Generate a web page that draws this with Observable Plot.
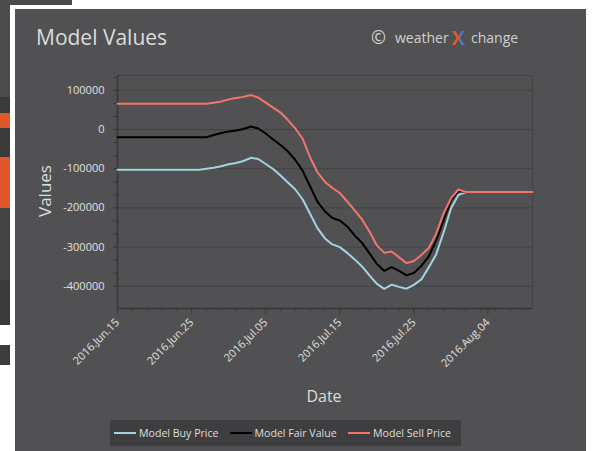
<!DOCTYPE html>
<html>
<head>
<meta charset="utf-8">
<script src="https://cdn.jsdelivr.net/npm/d3@7"></script>
<script src="https://cdn.jsdelivr.net/npm/@observablehq/plot@0.6"></script>
<style>
html,body{margin:0;padding:0;background:#fff;width:592px;height:451px;overflow:hidden;font-family:"Open Sans",sans-serif;}
#wrap{position:relative;width:592px;height:451px;}
.abs{position:absolute;}
#panel{left:15px;top:9px;width:571px;height:442px;background:#515153;}
#title{left:36px;top:26.5px;font-size:21px;color:#dcdcdc;line-height:1;white-space:nowrap;}
.logo{top:31px;font-size:14px;color:#d0d0d0;line-height:1;white-space:nowrap;}
#logoC{left:371px;top:28px;font-size:18px;}
#logoX{left:452px;top:28.5px;font-size:19px;font-weight:700;background:linear-gradient(to right,#e2582a 52%,#4b79cc 52%);-webkit-background-clip:text;background-clip:text;color:transparent;}
#ylab{left:44px;top:191px;font-size:17px;color:#dcdcdc;transform:translate(-50%,-50%) rotate(-90deg);white-space:nowrap;line-height:1;}
#xlab{left:324px;top:396px;font-size:16px;color:#dcdcdc;transform:translate(-50%,-50%);white-space:nowrap;line-height:1;}
#legend{left:110px;top:420px;width:351px;height:26px;background:#3e3e40;font-size:10.6px;color:#dedede;}
#legend .sw{position:absolute;top:12px;width:22px;height:2px;display:block;}
#legend .txt{position:absolute;top:0;height:26px;line-height:26px;white-space:nowrap;}
#plot{left:0;top:0;}
</style>
</head>
<body>
<div id="wrap">
  <div class="abs" style="left:0;top:0;width:72px;height:5px;background:#4b4b4d"></div>
  <div class="abs" style="left:0;top:0;width:10px;height:97px;background:#4b4b4d"></div>
  <div class="abs" style="left:0;top:97px;width:10px;height:16px;background:#3a3a3c"></div>
  <div class="abs" style="left:0;top:113px;width:10px;height:15px;background:#e0582a"></div>
  <div class="abs" style="left:0;top:128px;width:10px;height:29px;background:#3a3a3c"></div>
  <div class="abs" style="left:0;top:157px;width:10px;height:51px;background:#e0582a"></div>
  <div class="abs" style="left:0;top:208px;width:10px;height:72px;background:#444446"></div>
  <div class="abs" style="left:0;top:280px;width:10px;height:45px;background:#3a3a3c"></div>
  <div class="abs" style="left:0;top:345px;width:10px;height:20px;background:#3c3c3e"></div>
  <div id="panel" class="abs"></div>
  <div id="title" class="abs">Model Values</div>
  <div id="logoC" class="abs logo">©</div>
  <div class="abs logo" style="left:395px">weather</div>
  <div id="logoX" class="abs logo">X</div>
  <div class="abs logo" style="left:471px">change</div>
  <div id="ylab" class="abs">Values</div>
  <div id="xlab" class="abs">Date</div>
  <div id="legend" class="abs"></div>
  <div id="plot" class="abs"></div>
</div>
<script>
const dates = [
  "2016-06-15","2016-06-16","2016-06-17","2016-06-18","2016-06-19","2016-06-20","2016-06-21","2016-06-22",
  "2016-06-23","2016-06-24","2016-06-25","2016-06-26","2016-06-27","2016-06-28","2016-06-29","2016-06-30",
  "2016-07-01","2016-07-02","2016-07-03","2016-07-04","2016-07-05","2016-07-06","2016-07-07","2016-07-08",
  "2016-07-09","2016-07-10","2016-07-11","2016-07-12","2016-07-13","2016-07-14","2016-07-15","2016-07-16",
  "2016-07-17","2016-07-18","2016-07-19","2016-07-20","2016-07-21","2016-07-22","2016-07-23","2016-07-24",
  "2016-07-25","2016-07-26","2016-07-27","2016-07-28","2016-07-29","2016-07-30","2016-07-31","2016-08-01",
  "2016-08-02","2016-08-03","2016-08-04","2016-08-05","2016-08-06","2016-08-07","2016-08-08","2016-08-09",
  "2016-08-10"
];
const buyPrice = [
  -102800,-102800,-102800,-102800,-102800,-102800,-102800,-102800,-102800,-102800,-102800,-102800,
  -100300,-97700,-93900,-88500,-85500,-80400,-72200,-75300,-88000,-100800,-117300,-135200,
  -153100,-178600,-215600,-252500,-278100,-293400,-300300,-315000,-331600,-349500,-372400,-394100,
  -406900,-396200,-401800,-406400,-396700,-382700,-352000,-318900,-262800,-201500,-167100,
  -159400,-159400,-159400,-159400,-159400,-159400,-159400,-159400,-159400,-159400
];
const fairValue = [
  -19600,-19600,-19600,-19600,-19600,-19600,-19600,-19600,-19600,-19600,-19600,-19600,-19600,
  -14000,-8900,-5100,-2600,1300,7700,2600,-10200,-25500,-39500,-56100,
  -77800,-105900,-145400,-184900,-209200,-225800,-232100,-247400,-270400,-289500,-316300,-343100,
  -361000,-351300,-361000,-372400,-366100,-348200,-324000,-283200,-232100,-181100,-156900,
  -159400,-159400,-159400,-159400,-159400,-159400,-159400,-159400,-159400,-159400
];
const sellPrice = [
  65600,65600,65600,65600,65600,65600,65600,65600,65600,65600,65600,65600,65600,
  68400,71400,77000,80400,83400,88000,81600,68900,56100,43400,24200,
  2600,-24200,-71400,-109700,-133900,-149200,-162000,-183700,-206600,-229600,-260200,-295900,
  -315000,-311200,-326500,-341100,-335500,-320200,-302300,-266600,-214300,-176000,-153100,
  -159400,-159400,-159400,-159400,-159400,-159400,-159400,-159400,-159400,-159400
];
const seriesNames = ["Model Buy Price", "Model Fair Value", "Model Sell Price"];
const seriesColors = ["#a3d3e3", "#000000", "#f2766b"];
const xTickDates = ["2016-06-15","2016-06-25","2016-07-05","2016-07-15","2016-07-25","2016-08-04"];
const yTicks = [-400000, -300000, -200000, -100000, 0, 100000];
const xDomain = ["2016-06-15", "2016-08-10"];
const yDomain = [-457000, 138000];

const parse = d3.utcParse("%Y-%m-%d");
const seriesValues = [buyPrice, fairValue, sellPrice];
const rows = [];
seriesNames.forEach((name, s) => {
  dates.forEach((d, i) => rows.push({date: parse(d), value: seriesValues[s][i], series: name}));
});
const xd = xDomain.map(parse);
const minorX = d3.utcDay.every(2).range(xd[0], d3.utcDay.offset(xd[1], 1));
const minorY = d3.range(-400000, 138000, 100000 / 3);

const chart = Plot.plot({
  width: 592,
  height: 451,
  marginLeft: 117,
  marginRight: 60,
  marginTop: 75,
  marginBottom: 143,
  style: {background: "transparent", color: "#e0e0e0", fontFamily: "Open Sans, sans-serif", fontSize: "11px"},
  x: {type: "utc", domain: xd},
  y: {domain: yDomain},
  color: {domain: seriesNames, range: seriesColors},
  marks: [
    Plot.gridY(yTicks, {stroke: "#424244", strokeOpacity: 1}),
    Plot.frame({stroke: "#434345"}),
    Plot.axisY(minorY, {tickSize: 4, tickFormat: () => "", stroke: "#3a3a3c", label: null}),
    Plot.axisY(yTicks, {tickSize: 4, tickPadding: 9, tickFormat: d => String(d), stroke: "#3a3a3c", fill: "#e0e0e0", label: null}),
    Plot.axisX(minorX, {tickSize: 3, tickFormat: () => "", stroke: "#3a3a3c", label: null}),
    Plot.axisX(xTickDates.map(parse), {tickSize: 6, tickPadding: 6, tickRotate: -45, tickFormat: d3.utcFormat("%Y.%b.%d"), stroke: "#3a3a3c", fill: "#e0e0e0", label: null}),
    Plot.ruleX([xd[0]], {stroke: "#363638", strokeWidth: 1.5}),
    Plot.ruleY([yDomain[0]], {stroke: "#363638", strokeWidth: 1.5}),
    Plot.line(rows, {x: "date", y: "value", z: "series", stroke: "series", strokeWidth: 2})
  ]
});
document.getElementById("plot").appendChild(chart);

const legend = document.getElementById("legend");
const swatchLeft = [4, 120, 238];
const textLeft = [29, 144.5, 263];
seriesNames.forEach((name, i) => {
  const sw = document.createElement("div");
  sw.className = "sw";
  sw.style.left = swatchLeft[i] + "px";
  sw.style.backgroundColor = seriesColors[i];
  legend.appendChild(sw);
  const t = document.createElement("span");
  t.className = "txt";
  t.style.left = textLeft[i] + "px";
  t.textContent = name;
  legend.appendChild(t);
});
</script>
</body>
</html>
